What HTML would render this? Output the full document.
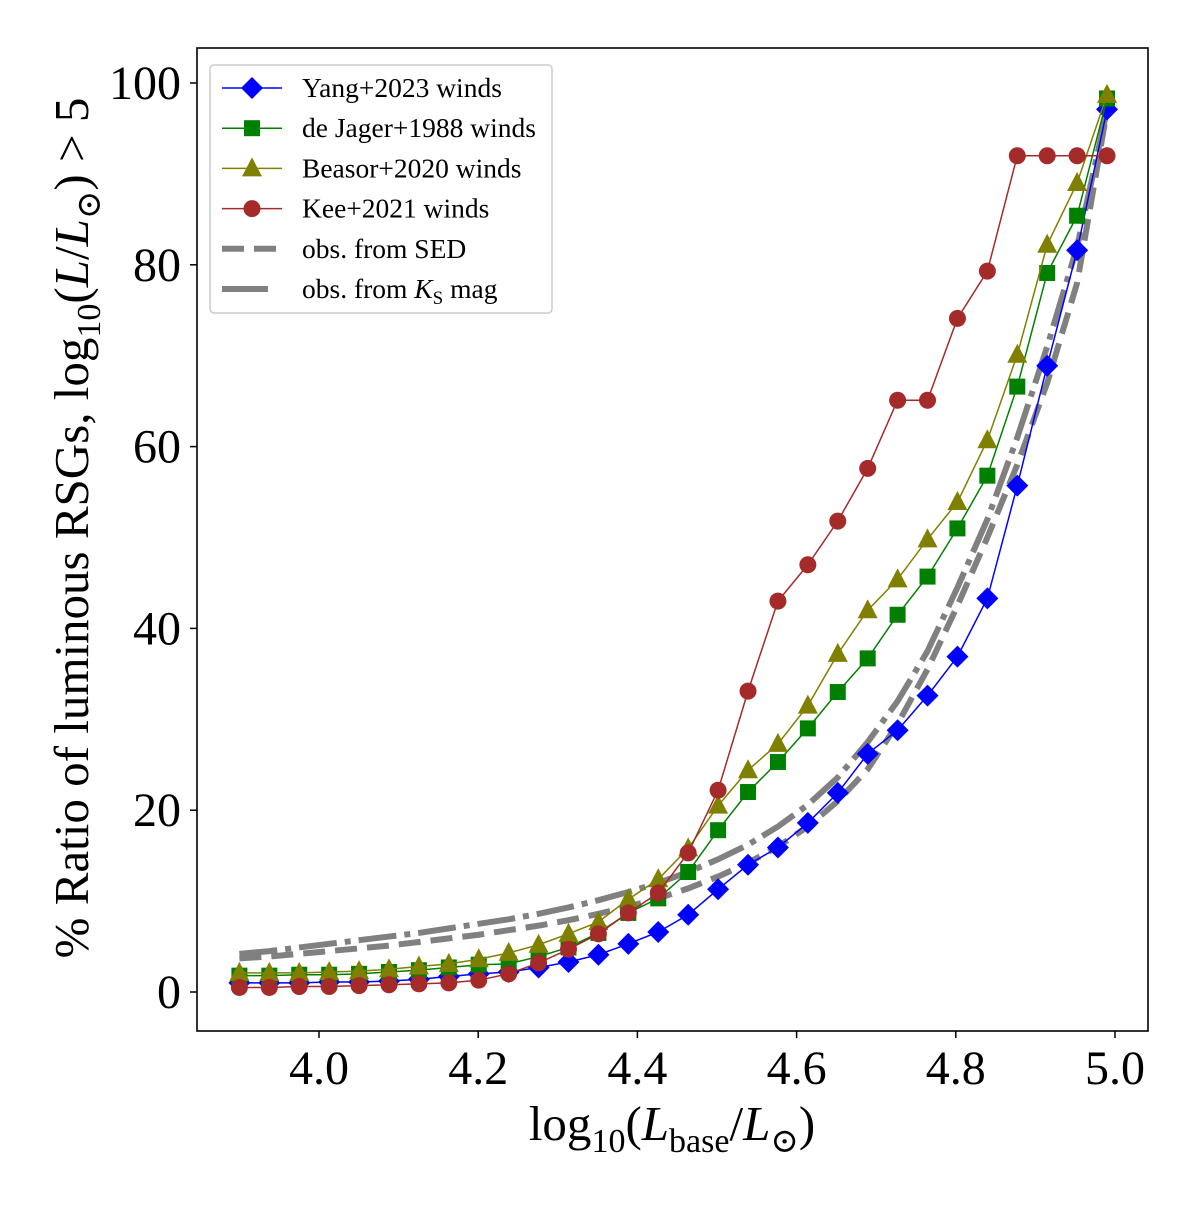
<!DOCTYPE html>
<html><head><meta charset="utf-8"><style>
body{margin:0;background:#fff}
svg text{font-family:"Liberation Serif","DejaVu Serif",serif;fill:#000}
</style></head><body>
<svg id="chart" width="1200" height="1200" viewBox="0 0 1200 1200" xmlns="http://www.w3.org/2000/svg">
<rect width="1200" height="1200" fill="#fff"/>
<g id="series"></g>
<rect x="197" y="48" width="951" height="983" fill="none" stroke="#000" stroke-width="1.6"/>
<g id="xticks"></g>
<g id="yticks"></g>
<text x="672" y="1140" font-size="49" text-anchor="middle">log<tspan font-size="34" dy="12">10</tspan><tspan dy="-12">(</tspan><tspan font-style="italic">L</tspan><tspan font-size="34" dy="12">base</tspan><tspan dy="-12">/</tspan><tspan font-style="italic">L</tspan><tspan font-size="34" dy="12">⊙</tspan><tspan dy="-12">)</tspan></text>
<text transform="translate(88,528) rotate(-90)" font-size="49" text-anchor="middle">% Ratio of luminous RSGs, log<tspan font-size="34" dy="12">10</tspan><tspan dy="-12">(</tspan><tspan font-style="italic">L</tspan><tspan>/</tspan><tspan font-style="italic">L</tspan><tspan font-size="34" dy="12">⊙</tspan><tspan dy="-12">) &gt; 5</tspan></text>
<g id="legend">
<rect x="210" y="65" width="342" height="248" rx="4" fill="#fff" fill-opacity="0.8" stroke="#ccc" stroke-width="1.5"/>
</g>
</svg>
<script>
const xs = [];
for (let i = 0; i < 30; i++) xs.push(3.9 + i * (1.09 / 29));
const yang = [1.0,1.0,1.0,1.1,1.1,1.2,1.4,1.7,2.0,2.2,2.7,3.3,4.1,5.3,6.6,8.5,11.3,14.0,15.9,18.6,21.9,26.2,28.8,32.6,36.9,43.3,55.7,68.9,81.6,97.1];
const jager = [1.8,1.8,1.9,1.9,2.0,2.2,2.4,2.7,3.0,3.1,3.9,4.9,6.5,8.7,10.3,13.2,17.8,22.0,25.3,29.0,33.0,36.7,41.5,45.7,51.0,56.8,66.6,79.1,85.4,98.3];
const beasor = [2.1,2.1,2.1,2.2,2.3,2.5,2.8,3.1,3.6,4.3,5.2,6.4,7.7,10.2,12.4,15.8,20.5,24.4,27.3,31.5,37.2,42.0,45.4,49.8,53.9,60.7,70.1,82.2,89.0,98.7];
const kee = [0.5,0.5,0.6,0.6,0.7,0.8,0.9,1.0,1.3,2.0,3.2,4.7,6.4,8.7,10.9,15.3,22.2,33.1,43.0,47.0,51.8,57.6,65.1,65.1,74.1,79.3,92.0,92.0,92.0,92.0];
const sed = [3.7,3.9,4.2,4.5,4.8,5.1,5.5,5.9,6.3,6.8,7.3,7.9,8.6,9.4,10.3,11.4,12.7,14.2,16.0,18.2,21.0,24.5,29.5,35.5,42.5,50,58,67,78,97];
const ks = [4.2,4.5,4.9,5.3,5.7,6.1,6.5,7.0,7.5,8.0,8.6,9.3,10.1,11.0,12.0,13.2,14.6,16.2,18.2,20.6,23.6,27.5,32.0,37.5,44.5,52,61,71,82,97];
const xTicks = [4.0,4.2,4.4,4.6,4.8,5.0];
const xTickLabels = ["4.0","4.2","4.4","4.6","4.8","5.0"];
const yTicks = [0,20,40,60,80,100];
const yTickLabels = ["0","20","40","60","80","100"];

const NS = "http://www.w3.org/2000/svg";
const X = v => 319 + (v - 4.0) * 796;
const Y = v => 992 - v * 9.09;
function mk(tag, attrs, parent){const e=document.createElementNS(NS,tag);for(const k in attrs)e.setAttribute(k,attrs[k]);parent.appendChild(e);return e;}
const sg = document.getElementById('series');

function gray(vals, dash, name){
  const p = mk('polyline',{points:vals.map((v,i)=>X(xs[i])+','+Y(v)).join(' '),fill:'none',stroke:'#808080','stroke-width':6,'stroke-dasharray':dash},sg);
  
  
}
gray(sed,'22,10','line-obs-sed');
gray(ks,'38,8,6,8','line-obs-ks');

function marker(shape,x,y,color,parent){
  let e;
  if(shape==='d') e=mk('polygon',{points:`${x},${y-11} ${x+11},${y} ${x},${y+11} ${x-11},${y}`,fill:color},parent);
  else if(shape==='s') e=mk('rect',{x:x-8,y:y-8,width:16,height:16,fill:color},parent);
  else if(shape==='t') e=mk('polygon',{points:`${x},${y-11} ${x+10},${y+8} ${x-10},${y+8}`,fill:color},parent);
  else e=mk('circle',{cx:x,cy:y,r:8.5,fill:color},parent);
  return e;
}
function series(vals,color,shape,name){
  const g = mk('g',{},sg);
  
  
  mk('polyline',{points:vals.map((v,i)=>X(xs[i])+','+Y(v)).join(' '),fill:'none',stroke:color,'stroke-width':1.5},g);
  vals.forEach((v,i)=>{
    const m = marker(shape,X(xs[i]),Y(v),color,g);
    
    
  });
}
series(yang,'#0000ff','d','series-yang');
series(jager,'#008000','s','series-de-jager');
series(beasor,'#808000','t','series-beasor');
series(kee,'#a52a2a','o','series-kee');

const xg = document.getElementById('xticks');
xTicks.forEach((t,i)=>{
  const l = mk('line',{x1:X(t),x2:X(t),y1:1031,y2:1038,stroke:'#000','stroke-width':1.5},xg);
  
  
  const tx = mk('text',{x:X(t),y:1084,'font-size':48,'text-anchor':'middle'},xg);
  tx.textContent = xTickLabels[i];
  
  
});
const yg = document.getElementById('yticks');
yTicks.forEach((t,i)=>{
  const l = mk('line',{x1:190,x2:197,y1:Y(t),y2:Y(t),stroke:'#000','stroke-width':1.5},yg);
  
  
  const tx = mk('text',{x:181,y:Y(t)+16,'font-size':48,'text-anchor':'end'},yg);
  tx.textContent = yTickLabels[i];
  
  
});

const lg = document.getElementById('legend');
const entries = [
  ['Yang+2023 winds','#0000ff','d',null],
  ['de Jager+1988 winds','#008000','s',null],
  ['Beasor+2020 winds','#808000','t',null],
  ['Kee+2021 winds','#a52a2a','o',null],
  ['obs. from SED','#808080',null,'22,10'],
  ['obs. from Ks','#808080',null,'46,100']
];
entries.forEach((e,i)=>{
  const y = 88 + i*40.2;
  const g = mk('g',{},lg);
  
  
  if(e[2]){
    mk('line',{x1:222,x2:282,y1:y,y2:y,stroke:e[1],'stroke-width':1.5},g);
    marker(e[2],252,y,e[1],g);
  } else {
    mk('line',{x1:222,x2:282,y1:y,y2:y,stroke:e[1],'stroke-width':6,'stroke-dasharray':e[3]},g);
  }
  const t = mk('text',{x:302,y:y+9,'font-size':27.5},g);
  if(i===5){ t.innerHTML = 'obs. from <tspan font-style="italic">K</tspan><tspan font-size="19" dy="6">S</tspan><tspan dy="-6"> mag</tspan>'; }
  else t.textContent = e[0];
});
</script>
</body></html>
